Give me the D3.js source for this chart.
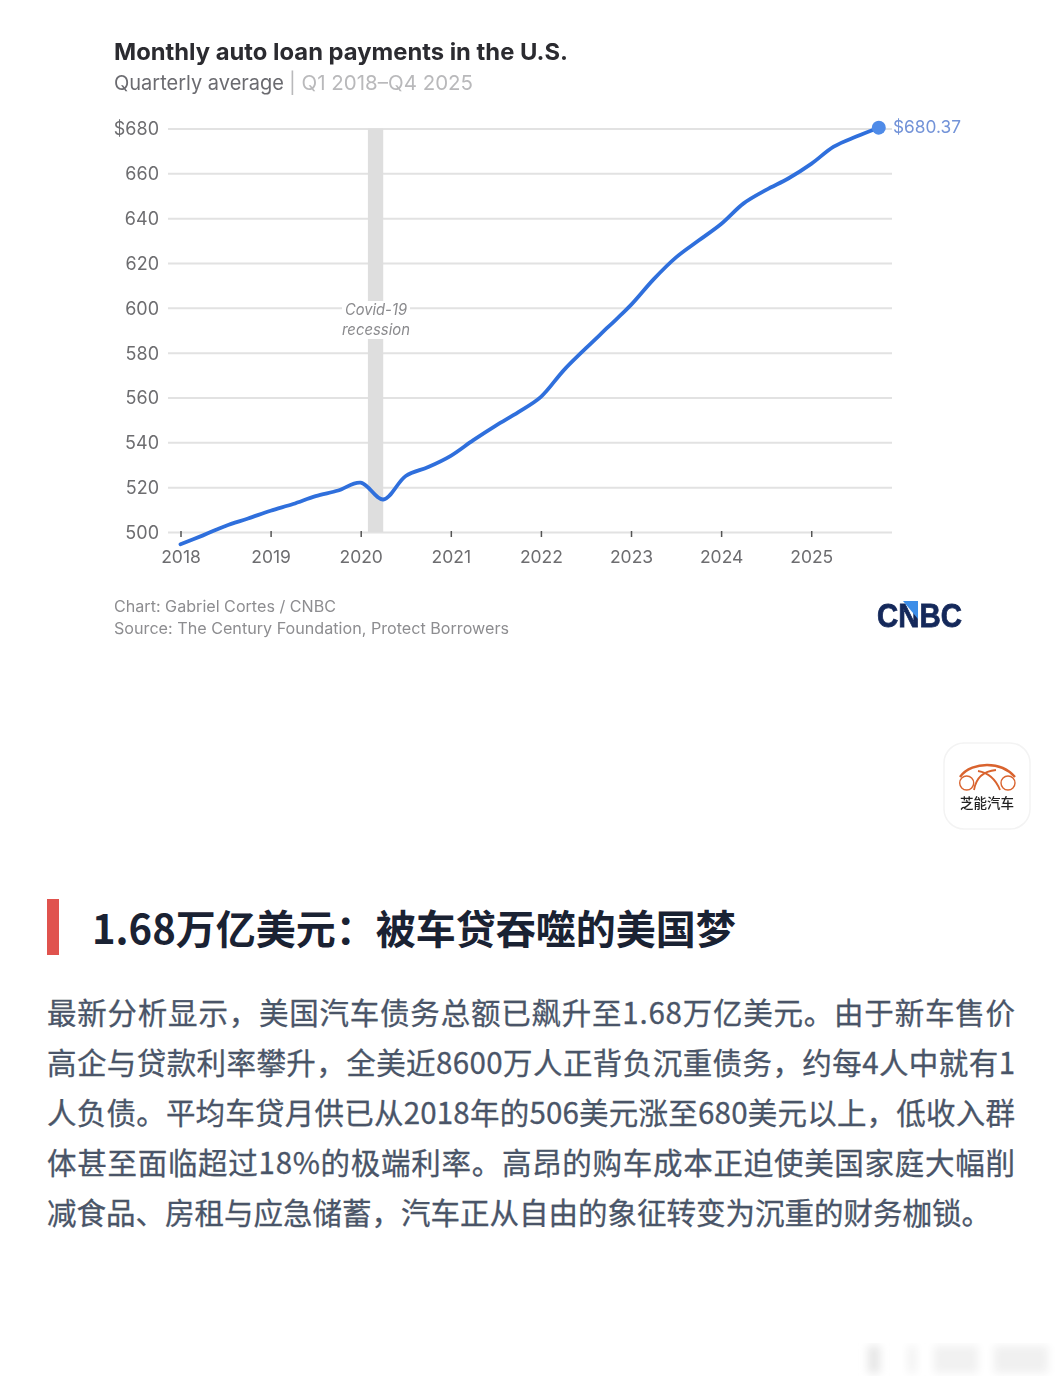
<!DOCTYPE html>
<html>
<head>
<meta charset="utf-8">
<script src="https://cdn.jsdelivr.net/npm/d3@7/dist/d3.min.js"></script>
<style>
    html, body { margin: 0; padding: 0; background: #fff; }
    svg { display: block; }
    .chart { filter: blur(0.5px); }
    .chart text { font-family: Inter, "Open Sans", sans-serif; }
    .yaxis .domain, .xaxis .domain { display: none; }
    .cjk { font-family: "Noto Sans CJK SC", sans-serif; }
</style>
</head>
<body>
<script>
// quarterly average payment
var quarters = [2018, 2018.25, 2018.5, 2018.75, 2019, 2019.25, 2019.5, 2019.75,
    2020, 2020.25, 2020.5, 2020.75, 2021, 2021.25, 2021.5, 2021.75,
    2022, 2022.25, 2022.5, 2022.75, 2023, 2023.25, 2023.5, 2023.75,
    2024, 2024.25, 2024.5, 2024.75, 2025, 2025.25, 2025.5, 2025.75];
var payments = [494.5, 498.5, 502.7, 506, 509.5, 512.5, 516, 518.5,
    522, 514.5, 525, 529, 534, 541, 547.5, 553.5,
    560.3, 572, 582, 591.6, 601.3, 612.7, 622.5, 630,
    637.4, 646.6, 652.6, 657.8, 664.2, 671.9, 676.4, 680.37];
var yTicks = [500, 520, 540, 560, 580, 600, 620, 640, 660, 680];
var xTicks = [2018, 2019, 2020, 2021, 2022, 2023, 2024, 2025];
var recession = [2020.08, 2020.25];

var bodyLines = [
    "最新分析显示，美国汽车债务总额已飙升至1.68万亿美元。由于新车售价",
    "高企与贷款利率攀升，全美近8600万人正背负沉重债务，约每4人中就有1",
    "人负债。平均车贷月供已从2018年的506美元涨至680美元以上，低收入群",
    "体甚至面临超过18%的极端利率。高昂的购车成本正迫使美国家庭大幅削",
    "减食品、房租与应急储蓄，汽车正从自由的象征转变为沉重的财务枷锁。"
];

var w = 1060, h = 1386;
var svg = d3.select("body").append("svg").attr("width", w).attr("height", h);

var defs = svg.append("defs");
defs.append("filter").attr("id", "smudge").attr("x", "-50%").attr("width", "200%")
    .append("feGaussianBlur").attr("stdDeviation", 4);

var x = d3.scaleLinear().domain([2018, 2025.75]).range([180.5, 878.8]);
var y = d3.scaleLinear().domain([500, 680]).range([532, 128.5]);

var chart = svg.append("g").attr("class", "chart");

chart.append("text").attr("x", 114).attr("y", 60)
    .attr("textLength", 454).attr("lengthAdjust", "spacingAndGlyphs")
    .style("font-size", "23.5px").style("font-weight", 700).style("fill", "#2b2b30")
    .text("Monthly auto loan payments in the U.S.");

chart.append("text").attr("x", 114).attr("y", 90)
    .attr("textLength", 170).attr("lengthAdjust", "spacingAndGlyphs")
    .style("font-size", "20.5px").style("fill", "#6b6b70")
    .text("Quarterly average");
chart.append("text").attr("x", 289).attr("y", 90)
    .attr("textLength", 184).attr("lengthAdjust", "spacingAndGlyphs")
    .style("font-size", "20.5px").style("fill", "#b9b9bb")
    .text("| Q1 2018–Q4 2025");

// grid + y labels
var yAxis = d3.axisLeft(y).tickValues(yTicks).tickSize(0).tickPadding(0)
    .tickFormat(function(d) { return d == 680 ? "$680" : d; });
var gy = chart.append("g").attr("class", "yaxis")
    .attr("transform", "translate(159,0)").call(yAxis);
gy.selectAll("text").attr("dy", "0.36em").style("font-size", "18px").style("fill", "#6d6d70");
gy.selectAll(".tick").append("line")
    .attr("x1", 9).attr("x2", 733)
    .style("stroke", "#e2e2e2").style("stroke-width", 2);

// recession band
chart.append("rect")
    .attr("x", x(recession[0])).attr("width", x(recession[1]) - x(recession[0]))
    .attr("y", y(680)).attr("height", y(500) - y(680))
    .style("fill", "#dedede");
chart.append("rect").attr("x", 342).attr("y", 301).attr("width", 68).attr("height", 38)
    .style("fill", "#fff");
chart.append("text").attr("x", 345).attr("y", 315)
    .attr("textLength", 62).attr("lengthAdjust", "spacingAndGlyphs")
    .style("font-size", "15.5px").style("font-style", "italic").style("fill", "#8a8a8d")
    .text("Covid-19");
chart.append("text").attr("x", 342).attr("y", 335)
    .attr("textLength", 68).attr("lengthAdjust", "spacingAndGlyphs")
    .style("font-size", "15.5px").style("font-style", "italic").style("fill", "#8a8a8d")
    .text("recession");

// x axis
var xAxis = d3.axisBottom(x).tickValues(xTicks).tickSize(6).tickPadding(14)
    .tickFormat(d3.format("d"));
var gx = chart.append("g").attr("class", "xaxis")
    .attr("transform", "translate(0,531)").call(xAxis);
gx.selectAll("line").style("stroke", "#555").style("stroke-width", 1.5);
gx.selectAll("text").style("font-size", "17.5px").style("fill", "#6d6d70");

// the line
var line = d3.line()
    .x(function(d, i) { return x(quarters[i]); })
    .y(function(d) { return y(d); })
    .curve(d3.curveCatmullRom.alpha(0.5));
chart.append("path").datum(payments).attr("d", line)
    .style("fill", "none").style("stroke", "#2f6fdc")
    .style("stroke-width", 3.8).style("stroke-linecap", "round");

chart.append("circle")
    .attr("cx", x(quarters[quarters.length - 1]))
    .attr("cy", y(payments[payments.length - 1]))
    .attr("r", 7).style("fill", "#4f8be8");
chart.append("text").attr("x", 893).attr("y", 133)
    .attr("textLength", 68).attr("lengthAdjust", "spacingAndGlyphs")
    .style("font-size", "17.5px").style("fill", "#7393d8")
    .text("$" + payments[payments.length - 1]);

// credits
chart.append("text").attr("x", 114).attr("y", 612)
    .attr("textLength", 222).attr("lengthAdjust", "spacingAndGlyphs")
    .style("font-size", "15.5px").style("fill", "#8d8d90")
    .text("Chart: Gabriel Cortes / CNBC");
chart.append("text").attr("x", 114).attr("y", 634)
    .attr("textLength", 395).attr("lengthAdjust", "spacingAndGlyphs")
    .style("font-size", "15.5px").style("fill", "#8d8d90")
    .text("Source: The Century Foundation, Protect Borrowers");

// CNBC mark
chart.append("text").attr("x", 877).attr("y", 627)
    .attr("textLength", 85).attr("lengthAdjust", "spacingAndGlyphs")
    .style("font-family", "'Liberation Sans', sans-serif")
    .style("font-size", "33px").style("font-weight", 700).style("fill", "#14285a")
    .style("stroke", "#14285a").style("stroke-width", 0.8)
    .text("CNBC");
chart.append("path").attr("d", "M903,601H918V619Z").style("fill", "#3d8ee8");

// app badge
var badge = svg.append("g").attr("class", "chart");
badge.append("rect").attr("x", 944).attr("y", 743).attr("width", 86).attr("height", 86).attr("rx", 20)
    .style("fill", "#fff").style("stroke", "#f3f3f3").style("stroke-width", 1.5);
var orange = "#d9632e";
badge.append("path").attr("d", "M960,777C966,768 978,765 987,765C998,765 1008,769 1015,777")
    .style("fill", "none").style("stroke", orange).style("stroke-width", 2.4);
badge.append("path").attr("d", "M974,790C976,778 984,771 996,770M1000,790C996,780 990,773 978,771")
    .style("fill", "none").style("stroke", orange).style("stroke-width", 1.8);
badge.selectAll("circle.wheel").data([966.7, 1008]).enter().append("circle")
    .attr("cx", function(d) { return d; }).attr("cy", 783).attr("r", 7)
    .style("fill", "#fff").style("stroke", orange).style("stroke-width", 1.4);
badge.append("text").attr("x", 987).attr("y", 808).attr("text-anchor", "middle")
    .style("font-family", "'Noto Sans CJK SC', sans-serif")
    .style("font-size", "13.5px").style("font-weight", 500).style("fill", "#222")
    .text("芝能汽车");

// article
svg.append("rect").attr("x", 47).attr("y", 899).attr("width", 12).attr("height", 56).style("fill", "#e0534e");
svg.append("text").attr("class", "cjk").attr("x", 92).attr("y", 944)
    .style("font-size", "40px").style("font-weight", 700).style("fill", "#1a2233")
    .text("1.68万亿美元：被车贷吞噬的美国梦");
svg.selectAll("text.body").data(bodyLines).enter().append("text")
    .attr("class", "cjk body").attr("x", 47)
    .attr("y", function(d, i) { return 1024 + i * 50; })
    .attr("textLength", function(d, i) { return i < 4 ? 968 : null; })
    .attr("lengthAdjust", "spacing")
    .style("font-size", "29.5px").style("fill", "#4a5568")
    .style("stroke", "#4a5568").style("stroke-width", 0.3)
    .text(function(d) { return d; });

// smudged watermark, bottom right
svg.append("g").style("filter", "url(#smudge)")
    .selectAll("rect").data([[868, 12, "#e6e6e6"], [908, 8, "#f2f2f2"], [934, 44, "#f1f1f1"], [994, 54, "#f0f0f0"]]).enter().append("rect")
    .attr("x", function(d) { return d[0]; }).attr("width", function(d) { return d[1]; })
    .attr("y", 1346).attr("height", 27)
    .style("fill", function(d) { return d[2]; });
</script>
</body>
</html>
